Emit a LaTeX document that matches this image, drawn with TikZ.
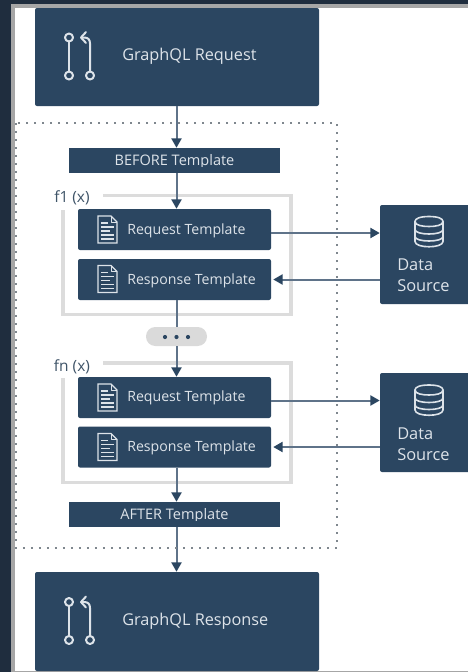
\documentclass[tikz,border=0pt]{standalone}
\usepackage{fontspec}
\setmainfont{Open Sans}
\usetikzlibrary{calc,arrows.meta}
\definecolor{boxblue}{HTML}{2B4661}
\definecolor{boxtext}{HTML}{DDE3E9}
\definecolor{linecol}{HTML}{5F7389}
\definecolor{tipcol}{HTML}{2B4661}
\definecolor{framecol}{HTML}{DCDCDC}
\definecolor{pillcol}{HTML}{DADADA}
\definecolor{labelcol}{HTML}{3F5468}
\definecolor{dotcol}{HTML}{7F878E}
\definecolor{outerdark}{HTML}{1F2D3E}
\definecolor{outergray}{HTML}{A6A6A6}
\tikzset{
  x=0.75pt,y=-0.75pt,
  box/.style={draw=none,fill=boxblue,rounded corners=1.5pt,inner sep=0pt,minimum width=#1},
  squarebox/.style={draw=none,fill=boxblue,inner sep=0pt,minimum width=158.25pt,minimum height=18.75pt},
  bigtext/.style={text=boxtext,font=\fontsize{12.2}{14}\selectfont,anchor=west,inner sep=0pt},
  tmpltext/.style={text=boxtext,font=\fontsize{10.6}{12}\selectfont,anchor=west,inner sep=0pt},
  headtext/.style={text=boxtext,font=\fontsize{10.9}{12}\selectfont,inner sep=0pt},
  dstext/.style={text=boxtext,font=\fontsize{12.3}{15.75}\selectfont,align=left,anchor=north west,inner sep=0pt},
  fnlabel/.style={text=labelcol,font=\fontsize{11.6}{12}\selectfont,inner sep=0pt},
  conn/.style={draw=linecol,line width=1.5pt},
  arrowconn/.style={conn,-{Triangle[length=7pt,width=7.5pt,fill=tipcol,color=tipcol]}},
  frameline/.style={draw=framecol,line width=2.5pt,line join=miter},
  icon/.style={draw=boxtext,line width=1.5pt,line cap=round,line join=round},
  iconthin/.style={draw=boxtext,line width=0.8pt},
  dotted box/.style={draw=dotcol,line width=1.3pt,dash pattern=on 1.3pt off 4.7pt},
}
\newcommand{\flowicon}[2]{%
  \begin{scope}[shift={(#1,#2)}]
    \draw[icon] (0,4) -- (0,34);
    \draw[icon,fill=boxblue] (0,0) circle[radius=4];
    \draw[icon,fill=boxblue] (0,38) circle[radius=4];
    \draw[icon,fill=boxblue] (21,38) circle[radius=4];
    \draw[icon] (21,34) -- (21,6) .. controls (21,2) and (19,0) .. (15,0) -- (12,0);
    \draw[icon] (17,-5.5) -- (12,0) -- (17,5.5);
  \end{scope}}
\newcommand{\docicon}[2]{%
  \begin{scope}[shift={(#1,#2)}]
    \draw[icon,line width=0.9pt,line cap=butt,line join=miter] (0,0) -- (13,0) -- (19,6) -- (19,27) -- (0,27) -- cycle;
    \draw[icon,line width=0.7pt,line cap=butt] (13,0) -- (13,6) -- (19,6);
    \draw[iconthin] (3,7) -- (10,7) (3,11) -- (16,11) (3,15) -- (12,15) (3,19) -- (16,19) (3,23) -- (16,23);
  \end{scope}}
\newcommand{\dbicon}[2]{%
  \begin{scope}[shift={(#1,#2)}]
    \draw[icon,line width=1.2pt] (0,5) -- (0,25) .. controls (0,32) and (28,32) .. (28,25) -- (28,5);
    \draw[icon,line width=1.2pt] (14,0) .. controls (5,0) and (0,2) .. (0,5) .. controls (0,9) and (8,10) .. (14,10) .. controls (20,10) and (28,9) .. (28,5) .. controls (28,2) and (23,0) .. (14,0) -- cycle;
    \draw[icon,line width=1.2pt] (0,13) .. controls (0,19) and (28,19) .. (28,13);
    \draw[icon,line width=1.2pt] (0,20) .. controls (0,26) and (28,26) .. (28,20);
  \end{scope}}
\begin{document}
\begin{tikzpicture}
\useasboundingbox (0,0) rectangle (468,672);
% screenshot edge
\fill[white] (0,0) rectangle (468,672);
\fill[outergray] (11,4) rectangle (468,672);
\fill[white] (15,7.5) rectangle (468,670.5);
\fill[outerdark] (0,0) rectangle (11,672);
\fill[outerdark] (0,0) rectangle (468,4);

% spine of the flow
\coordinate (axis) at (176.5,0);

% frames
\draw[frameline] (103,195.5) -- (291,195.5) -- (291,314.5) -- (63,314.5) -- (63,210);
\draw[frameline] (103,363) -- (291,363) -- (291,482.5) -- (63,482.5) -- (63,378);
\node[fnlabel] (f1lab) at (72,198) {f1 (x)};
\node[fnlabel] (fnlab) at (72,367) {fn (x)};

% nodes
\node[box=213pt,minimum height=73.5pt] (gqlreq) at (177,57) {};
\node[squarebox] (before) at (174.5,160.5) {};
\node[box=144.75pt,minimum height=30.75pt] (req1) at (174.5,229.5) {};
\node[box=144.75pt,minimum height=30.75pt] (resp1) at (174.5,279.5) {};
\node[draw=none,fill=pillcol,rounded corners=7pt,inner sep=0pt,minimum width=45.75pt,minimum height=14.25pt] (pill) at (176.5,336.5) {};
\node[box=144.75pt,minimum height=30.75pt] (req2) at (174.5,397.5) {};
\node[box=144.75pt,minimum height=30.75pt] (resp2) at (174.5,447) {};
\node[squarebox] (after) at (174.5,514.5) {};
\node[box=213pt,minimum height=74.25pt] (gqlresp) at (177,621.5) {};
\node[box=69pt,minimum height=74.25pt] (ds1) at (426,254.5) {};
\node[box=69pt,minimum height=74.25pt] (ds2) at (426,422.5) {};

% connectors
\draw[arrowconn] (axis |- gqlreq.south) -- (axis |- before.north);
\draw[arrowconn] (axis |- before.south) -- (axis |- req1.north);
\draw[conn] (axis |- resp1.south) -- (axis |- pill.north);
\draw[arrowconn] (axis |- pill.south) -- (axis |- req2.north);
\draw[arrowconn] (axis |- resp2.south) -- (axis |- after.north);
\draw[arrowconn] (axis |- after.south) -- (axis |- gqlresp.north);
\draw[arrowconn] ($(req1.east)+(0,3.5)$) -- ($(ds1.west |- req1.east)+(0,3.5)$);
\draw[arrowconn] (ds1.west |- resp1.east) -- ($(resp1.east)+(2,0)$);
\draw[arrowconn] ($(req2.east)+(0,3)$) -- ($(ds2.west |- req2.east)+(0,3)$);
\draw[arrowconn] (ds2.west |- resp2.east) -- ($(resp2.east)+(2,0)$);

% dotted extent
\draw[dotted box] (16,123) rectangle (337,548);

% pill dots
\fill[boxblue] (165,337) circle[radius=2.1];
\fill[boxblue] (176.5,337) circle[radius=2.1];
\fill[boxblue] (188,337) circle[radius=2.1];

% icons
\flowicon{69}{37.5}
\flowicon{69}{602}
\docicon{98}{216}
\docicon{98}{265.5}
\docicon{98}{384}
\docicon{98}{433.5}
\dbicon{415}{216.5}
\dbicon{415}{385}

% texts
\node[bigtext] (t1) at (122,56) {GraphQL Request};
\node[bigtext] (t2) at (122,621) {GraphQL Response};
\begin{scope}
  \clip (69,148) rectangle (280,166);
  \node[headtext] (t3) at (174.5,161.5) {BEFORE Template};
\end{scope}
\begin{scope}
  \clip (69,502) rectangle (280,520);
  \node[headtext] (t4) at (174.5,515.5) {AFTER Template};
\end{scope}
\node[tmpltext] (t5) at (127,231) {Request Template};
\node[tmpltext] (t6) at (127,280.5) {Response Template};
\node[tmpltext] (t7) at (127,398) {Request Template};
\node[tmpltext] (t8) at (127,448) {Response Template};
\node[dstext] (t9) at (397,259) {Data\\Source};
\node[dstext] (t10) at (397,427.5) {Data\\Source};
\end{tikzpicture}
\end{document}
